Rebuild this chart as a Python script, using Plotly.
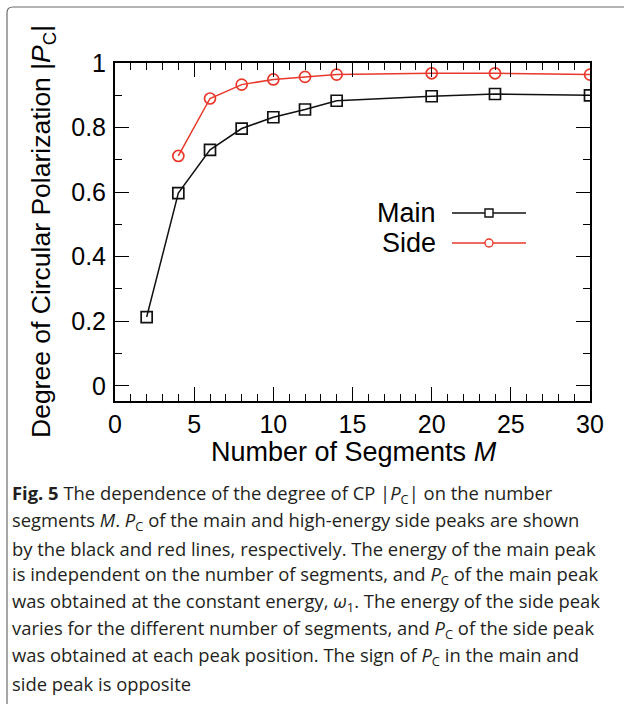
import plotly.graph_objects as go

# Degree of circular polarization |P_C| versus number of segments M
main_m = [2, 4, 6, 8, 10, 12, 14, 20, 24, 30]
main_pc = [0.213, 0.597, 0.731, 0.797, 0.832, 0.856, 0.883, 0.897, 0.904, 0.900]

side_m = [4, 6, 8, 10, 12, 14, 20, 24, 30]
side_pc = [0.712, 0.890, 0.933, 0.949, 0.957, 0.964, 0.968, 0.968, 0.964]

x_ticks = [0, 5, 10, 15, 20, 25, 30]
y_ticks = [0, 0.2, 0.4, 0.6, 0.8, 1]
y_tick_text = ["0", "0.2", "0.4", "0.6", "0.8", "1"]

caption_lines = [
    "<b>Fig. 5</b> The dependence of the degree of CP |<i>P</i><sub>C</sub>| on the number",
    "segments <i>M</i>. <i>P</i><sub>C</sub> of the main and high-energy side peaks are shown",
    "by the black and red lines, respectively. The energy of the main peak",
    "is independent on the number of segments, and <i>P</i><sub>C</sub> of the main peak",
    "was obtained at the constant energy, <i>ω</i><sub>1</sub>. The energy of the side peak",
    "varies for the different number of segments, and <i>P</i><sub>C</sub> of the side peak",
    "was obtained at each peak position. The sign of <i>P</i><sub>C</sub> in the main and",
    "side peak is opposite",
]

W, H = 624, 704
L, R, T, B = 115, 34, 63, 303
PW, PH = W - L - R, H - T - B

BLACK = "#111111"
RED = "#e8392c"
AXIS_FONT = "Liberation Sans, Arial, sans-serif"


def px(x):
    return (x - L) / PW


def py(y):
    return (H - B - y) / PH


fig = go.Figure()
fig.add_trace(go.Scatter(
    x=main_m, y=main_pc, mode="lines+markers", name="Main",
    line=dict(color=BLACK, width=1.5),
    marker=dict(symbol="square-open", size=11, color=BLACK, line=dict(width=1.7)),
    showlegend=False,
))
fig.add_trace(go.Scatter(
    x=side_m, y=side_pc, mode="lines+markers", name="Side",
    line=dict(color=RED, width=1.5),
    marker=dict(symbol="circle-open", size=11, color=RED, line=dict(width=1.7)),
    showlegend=False,
))

axis_common = dict(
    showline=True, linecolor="black", linewidth=2, mirror="allticks",
    ticks="inside", ticklen=14, tickwidth=1.3, tickcolor="black",
    showgrid=False, zeroline=False,
    tickfont=dict(family=AXIS_FONT, size=25, color="black"),
)

fig.update_xaxes(
    range=[0, 30], tickvals=x_ticks,
    minor=dict(dtick=1, ticklen=7, tickwidth=1.3, tickcolor="black", ticks="inside"),
    **axis_common,
)
fig.update_yaxes(
    range=[-0.047, 1.0], tickvals=y_ticks, ticktext=y_tick_text,
    ticklabelstandoff=2,
    minor=dict(dtick=0.1, ticklen=7, tickwidth=1.3, tickcolor="black", ticks="inside"),
    **axis_common,
)

annotations = []
shapes = []

# axis titles
annotations.append(dict(
    text="Degree of Circular Polarization |<i>P</i><sub>C</sub>|",
    xref="paper", yref="paper", x=px(43), y=py(232), textangle=-90,
    xanchor="center", yanchor="middle", showarrow=False,
    font=dict(family=AXIS_FONT, size=26.5, color="black"),
))
annotations.append(dict(
    text="Number of Segments <i>M</i>",
    xref="paper", yref="paper", x=px(354), y=py(452),
    xanchor="center", yanchor="middle", showarrow=False,
    font=dict(family=AXIS_FONT, size=27, color="black"),
))

# legend: label on the left, line sample with marker on the right
legend_rows = [("Main", BLACK, "rect", 213), ("Side", RED, "circle", 243)]
for label, color, kind, yc in legend_rows:
    annotations.append(dict(
        text=label, xref="paper", yref="paper", x=px(438), y=py(yc),
        xanchor="right", yanchor="middle", showarrow=False,
        font=dict(family=AXIS_FONT, size=27, color="black"),
    ))
    shapes.append(dict(
        type="line", xref="paper", yref="paper",
        x0=px(452), x1=px(526), y0=py(yc), y1=py(yc),
        line=dict(color=color, width=1.5), layer="above",
    ))
    r = 4
    shapes.append(dict(
        type=kind, xref="paper", yref="paper",
        x0=px(489 - r), x1=px(489 + r), y0=py(yc - r), y1=py(yc + r),
        line=dict(color=color, width=1.4), fillcolor="white", layer="above",
    ))

# figure frame with a rounded top-left corner
fx, fy, rad = 7, 7, 6
frame_path = (
    f"M {px(fx)},{py(H + 10)} L {px(fx)},{py(fy + rad)} "
    f"Q {px(fx)},{py(fy)} {px(fx + rad)},{py(fy)} L {px(W + 10)},{py(fy)}"
)
shapes.append(dict(
    type="path", xref="paper", yref="paper", path=frame_path,
    line=dict(color="#6b6b6b", width=1.2),
))

# caption
cap_font = dict(family="Open Sans, Noto Sans, sans-serif", size=18.4, color="#231f20")
for i, line in enumerate(caption_lines):
    annotations.append(dict(
        text=line, xref="paper", yref="paper", x=px(10), y=py(494 + 27 * i),
        xanchor="left", yanchor="middle", showarrow=False, align="left",
        font=cap_font,
    ))

fig.update_layout(
    width=W, height=H,
    margin=dict(l=L, r=R, t=T, b=B, autoexpand=False),
    paper_bgcolor="white", plot_bgcolor="white",
    annotations=annotations, shapes=shapes,
    showlegend=False,
)

fig.write_html("out.html")
